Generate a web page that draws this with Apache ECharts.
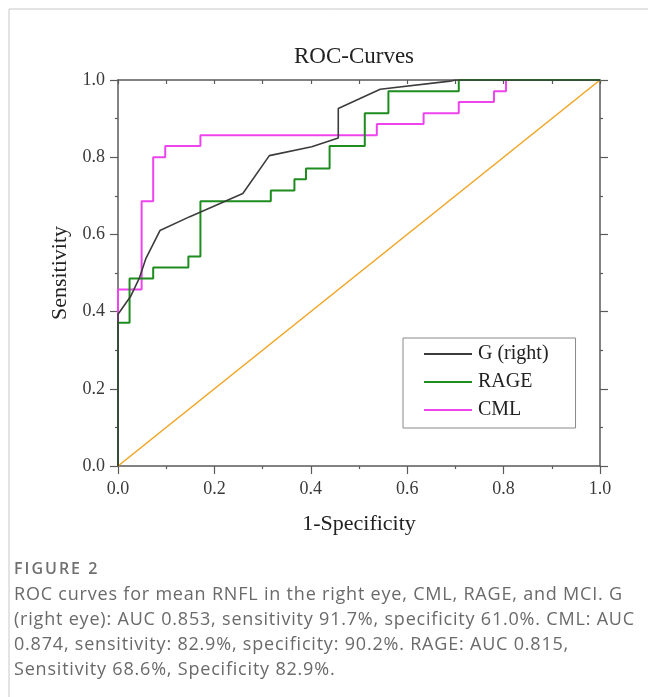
<!DOCTYPE html>
<html>
<head>
<meta charset="utf-8">
<script src="https://cdn.jsdelivr.net/npm/echarts@6/dist/echarts.min.js"></script>
<style>
  html, body { margin: 0; padding: 0; background: #fff; }
  #wrap { position: relative; width: 648px; height: 697px; }
  #chart { position: absolute; left: 0; top: 0; width: 648px; height: 697px; }
  #caption {
    position: absolute; left: 14px; top: 555px; width: 634px;
    font-family: "Open Sans", sans-serif; color: #6a6a6a;
  }
  #caption .fig { font-size: 16px; font-weight: 600; letter-spacing: 2px; color: #707070; line-height: 26px; }
  #caption .line { font-size: 18px; letter-spacing: 0.8px; line-height: 25px; white-space: nowrap; }
</style>
</head>
<body>
<div id="wrap">
  <div id="chart"></div>
  <div id="caption"></div>
</div>
<script>
// ROC curve points (false positive rate, sensitivity)
const gFpr = [0, 0, 0.026, 0.044, 0.058, 0.087, 0.149, 0.259, 0.314, 0.402, 0.457, 0.457, 0.544, 0.689, 0.70, 1.0];
const gTpr = [0, 0.393, 0.439, 0.486, 0.538, 0.610, 0.646, 0.706, 0.804, 0.827, 0.850, 0.926, 0.976, 0.997, 1.0, 1.0];

const rageFpr = [0, 0, 0.024, 0.024, 0.073, 0.073, 0.146, 0.146, 0.171, 0.171, 0.317, 0.317, 0.366, 0.366, 0.390, 0.390, 0.439, 0.439, 0.512, 0.512, 0.561, 0.561, 0.707, 0.707, 1.0];
const rageTpr = [0, 0.371, 0.371, 0.486, 0.486, 0.514, 0.514, 0.543, 0.543, 0.686, 0.686, 0.714, 0.714, 0.743, 0.743, 0.771, 0.771, 0.829, 0.829, 0.914, 0.914, 0.971, 0.971, 1.0, 1.0];

const cmlFpr = [0, 0, 0.049, 0.049, 0.073, 0.073, 0.098, 0.098, 0.171, 0.171, 0.537, 0.537, 0.634, 0.634, 0.707, 0.707, 0.780, 0.780, 0.805, 0.805, 1.0];
const cmlTpr = [0, 0.457, 0.457, 0.686, 0.686, 0.800, 0.800, 0.829, 0.829, 0.857, 0.857, 0.886, 0.886, 0.914, 0.914, 0.943, 0.943, 0.971, 0.971, 1.0, 1.0];

const refFpr = [0, 1];
const refTpr = [0, 1];

const seriesNames = ['G (right)', 'RAGE', 'CML'];

const captionTitle = 'FIGURE 2';
const captionLines = [
  'ROC curves for mean RNFL in the right eye, CML, RAGE, and MCI. G',
  '(right eye): AUC 0.853, sensitivity 91.7%, specificity 61.0%. CML: AUC',
  '0.874, sensitivity: 82.9%, specificity: 90.2%. RAGE: AUC 0.815,',
  'Sensitivity 68.6%, Specificity 82.9%.'
];

function pairs(xs, ys) {
  return xs.map((x, i) => [x, ys[i]]);
}

// caption below the plot, as plain text
const cap = document.getElementById('caption');
const figDiv = document.createElement('div');
figDiv.className = 'fig';
figDiv.textContent = captionTitle;
cap.appendChild(figDiv);
captionLines.forEach(t => {
  const d = document.createElement('div');
  d.className = 'line';
  d.textContent = t;
  cap.appendChild(d);
});

const serif = '"Liberation Serif", "Times New Roman", serif';
const axisColor = '#5a5a5a';

const chart = echarts.init(document.getElementById('chart'));

function tickLabel(margin) {
  return {
    margin: margin,
    color: '#3a3a3a',
    fontFamily: serif,
    fontSize: 18,
    formatter: v => v.toFixed(1)
  };
}

function baseAxis(extra) {
  return Object.assign({
    type: 'value',
    min: 0,
    max: 1,
    interval: 0.2,
    splitLine: { show: false },
    axisLine: { show: true, onZero: false, lineStyle: { color: axisColor, width: 1.5 } },
    axisTick: { show: true, length: 8, lineStyle: { color: axisColor, width: 1.2 } },
    minorTick: { show: true, splitNumber: 2, length: 3, lineStyle: { color: axisColor, width: 1.2 } },
    axisLabel: { show: false }
  }, extra);
}

const option = {
  animation: false,
  backgroundColor: '#fff',
  title: {
    text: 'ROC-Curves',
    left: 349,
    top: 40,
    textAlign: 'center',
    textStyle: { fontFamily: serif, fontSize: 23, fontWeight: 'normal', color: '#222' }
  },
  grid: { left: 118, right: 48, top: 80, bottom: 231 },
  legend: {
    orient: 'vertical',
    left: 403,
    top: 338,
    data: seriesNames,
    icon: 'rect',
    itemWidth: 48,
    itemHeight: 2,
    itemGap: 8,
    padding: [6, 27, 8, 21],
    borderColor: '#888',
    borderWidth: 1,
    backgroundColor: '#fff',
    textStyle: { fontFamily: serif, fontSize: 20, color: '#222', padding: [0, 0, 0, 1] }
  },
  xAxis: [
    baseAxis({
      position: 'bottom',
      name: '1-Specificity',
      nameLocation: 'middle',
      nameGap: 47,
      nameTextStyle: { fontFamily: serif, fontSize: 22, color: '#222' },
      axisLabel: tickLabel(14)
    }),
    baseAxis({
      position: 'top',
      axisTick: { show: true, inside: true, length: 4, lineStyle: { color: axisColor, width: 1.2 } },
      minorTick: { show: true, splitNumber: 2, length: 4, lineStyle: { color: axisColor, width: 1.2 } }
    })
  ],
  yAxis: [
    baseAxis({
      position: 'left',
      name: 'Sensitivity',
      nameLocation: 'middle',
      nameGap: 47,
      nameTextStyle: { fontFamily: serif, fontSize: 22, color: '#222' },
      axisLabel: tickLabel(13)
    }),
    baseAxis({
      position: 'right'
    })
  ],
  graphic: [
    {
      type: 'polyline',
      silent: true,
      shape: { points: [[9, 697], [9, 9], [648, 9]] },
      style: { stroke: '#c8c8c8', lineWidth: 1, fill: null }
    }
  ],
  series: [
    {
      name: 'reference',
      type: 'line',
      data: pairs(refFpr, refTpr),
      symbol: 'none',
      lineStyle: { color: '#f0a626', width: 1.6 },
      itemStyle: { color: '#f0a626' },
      z: 1
    },
    {
      name: seriesNames[0],
      type: 'line',
      data: pairs(gFpr, gTpr),
      symbol: 'none',
      lineStyle: { color: '#3c3c3c', width: 1.6 },
      itemStyle: { color: '#3c3c3c' },
      z: 4
    },
    {
      name: seriesNames[1],
      type: 'line',
      data: pairs(rageFpr, rageTpr),
      symbol: 'none',
      lineStyle: { color: '#1e8c1e', width: 2 },
      itemStyle: { color: '#1e8c1e' },
      z: 3
    },
    {
      name: seriesNames[2],
      type: 'line',
      data: pairs(cmlFpr, cmlTpr),
      symbol: 'none',
      lineStyle: { color: '#ee44ee', width: 2 },
      itemStyle: { color: '#ee44ee' },
      z: 2
    }
  ]
};

chart.setOption(option);
</script>
</body>
</html>
